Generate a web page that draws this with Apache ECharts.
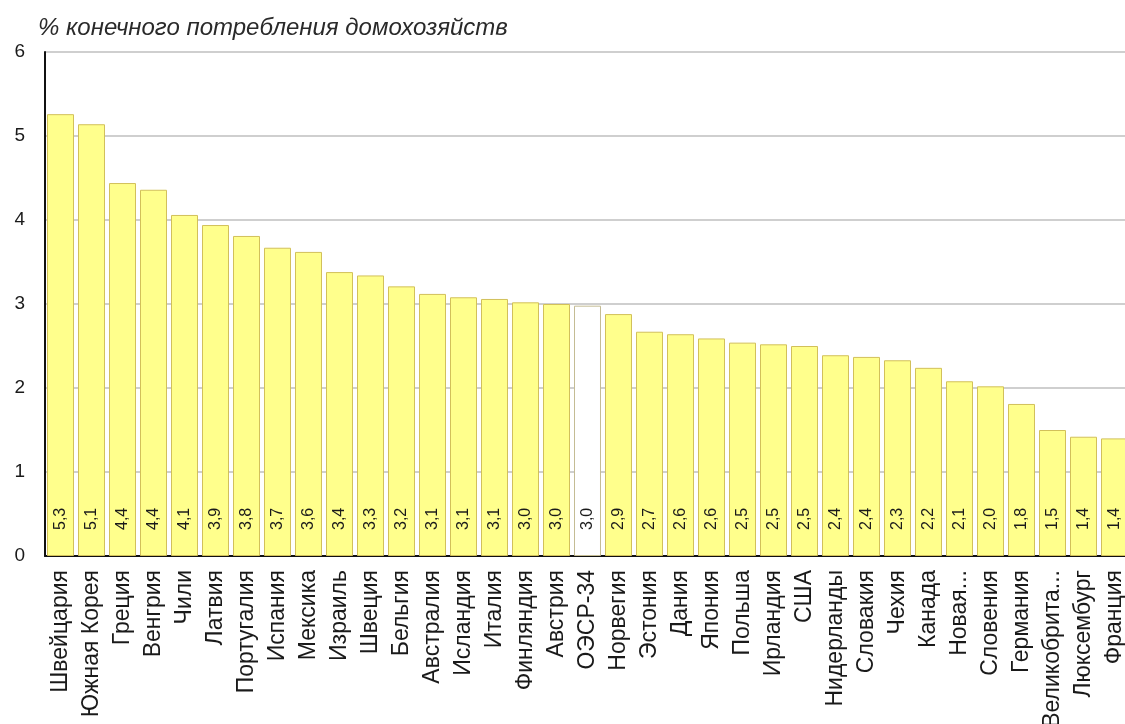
<!DOCTYPE html>
<html>
<head>
<meta charset="utf-8">
<script src="https://cdn.jsdelivr.net/npm/echarts@6/dist/echarts.min.js"></script>
<style>
html,body{margin:0;padding:0;background:#fff;}
#chart{width:1125px;height:724px;}
</style>
</head>
<body>
<div id="chart"></div>
<script>
var categories = ['Швейцария','Южная Корея','Греция','Венгрия','Чили','Латвия','Португалия','Испания','Мексика','Израиль','Швеция','Бельгия','Австралия','Исландия','Италия','Финляндия','Австрия','ОЭСР-34','Норвегия','Эстония','Дания','Япония','Польша','Ирландия','США','Нидерланды','Словакия','Чехия','Канада','Новая...','Словения','Германия','Великобрита...','Люксембург','Франция'];
var values = [5.26,5.14,4.44,4.36,4.06,3.94,3.81,3.67,3.62,3.38,3.34,3.21,3.12,3.08,3.06,3.02,3.00,2.98,2.88,2.67,2.64,2.59,2.54,2.52,2.50,2.39,2.37,2.33,2.24,2.08,2.02,1.81,1.50,1.42,1.40];
var highlight = 'ОЭСР-34';
var yTicks = [0,1,2,3,4,5,6];
var yTitle = '% конечного потребления домохозяйств';

var chart = echarts.init(document.getElementById('chart'), null, {renderer:'canvas'});
var font = '"Liberation Sans", Arial, sans-serif';
var seriesData = values.map(function(v,i){
  var item = {value: v};
  if (categories[i] === highlight) {
    item.itemStyle = {color:'#ffffff', borderColor:'#c4bc94'};
  }
  return item;
});
chart.setOption({
  animation:false,
  backgroundColor:'#ffffff',
  title:{
    text: yTitle,
    left: 33, top: 11,
    textStyle:{fontFamily:font, fontStyle:'italic', fontWeight:'normal', fontSize:24, color:'#2a2a2a'}
  },
  grid:{left:45, right:-5, top:52, bottom:168, containLabel:false, outerBoundsMode:'none'},
  xAxis:{
    type:'category',
    data: categories,
    axisLine:{show:true, lineStyle:{color:'#111', width:2}},
    axisTick:{show:false},
    axisLabel:{rotate:90, interval:0, margin:14, fontFamily:font, fontSize:23, color:'#1a1a1a'}
  },
  yAxis:{
    type:'value', min:0, max:6, interval:1,
    axisLine:{show:true, lineStyle:{color:'#111', width:2}},
    axisTick:{show:false},
    splitLine:{show:true, lineStyle:{color:'#cfcfcf', width:2}},
    axisLabel:{margin:20, fontFamily:font, fontSize:19, color:'#1a1a1a',
      formatter:function(v){return yTicks.indexOf(v)>=0 ? String(v) : '';}}
  },
  series:[{
    type:'bar',
    data: seriesData,
    barCategoryGap:'13%',
    itemStyle:{color:'#ffff8c', borderColor:'#d2c05a', borderWidth:1},
    label:{
      show:true, position:'insideBottom', rotate:90, align:'left', verticalAlign:'middle',
      distance:26, fontFamily:font, fontSize:16, color:'#1a1a1a',
      formatter:function(p){return p.value.toFixed(1).replace('.',',');}
    }
  }]
});
</script>
</body>
</html>
